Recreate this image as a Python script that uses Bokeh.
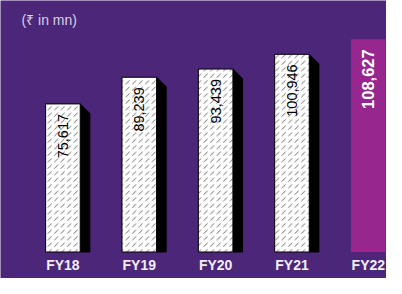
import math
from bokeh.plotting import figure
from bokeh.models import Range1d, ColumnDataSource, Label
from bokeh.core.properties import value
from bokeh.embed import file_html
from bokeh.resources import INLINE

# ---- data ----
years = ["FY18", "FY19", "FY20", "FY21", "FY22"]
revenue = [75617, 89239, 93439, 100946, 108627]
unit_label = "(₹ in mn)"

# ---- style ----
BG = "#4b2679"
HIGHLIGHT = "#97278f"
BAR_W = 0.453
DX = 0.126   # 3D side depth in x units
DY = 4829    # 3D side depth in y units

xs = list(range(len(years)))
labels = [f"{v:,}" for v in revenue]

p = figure(width=386, height=278, output_backend="svg", toolbar_location=None,
           x_range=Range1d(-0.8176, 4.238), y_range=Range1d(-13534, 128440),
           min_border=0, background_fill_color=BG, border_fill_color=BG)
p.axis.visible = False
p.grid.visible = False
p.outline_line_color = None

hist_x = xs[:-1]
hist_v = revenue[:-1]

# black 3D side of historical bars
side_xs = [[x + BAR_W / 2, x + BAR_W / 2 + DX, x + BAR_W / 2 + DX, x + BAR_W / 2] for x in hist_x]
side_ys = [[v, v - DY, 0, 0] for v in hist_v]
p.patches(side_xs, side_ys, fill_color="black", line_color="black")

# hatched white faces
src_h = ColumnDataSource(dict(x=hist_x, top=hist_v, lab=labels[:-1]))
p.vbar(x="x", top="top", bottom=0, width=BAR_W, source=src_h,
       fill_color="white", line_color="black", line_width=1,
       hatch_pattern=",", hatch_color="#222222", hatch_scale=6.5, hatch_weight=0.7)
p.text(x="x", y="top", text="lab", source=src_h, angle=math.pi / 2,
       text_align="right", text_baseline="middle", y_offset=10,
       text_font=value("Liberation Sans"), text_font_size="14.5px", text_color="black")

# highlighted latest bar
src_c = ColumnDataSource(dict(x=xs[-1:], top=revenue[-1:], lab=labels[-1:]))
p.vbar(x="x", top="top", bottom=0, width=BAR_W, source=src_c,
       fill_color=HIGHLIGHT, line_color=None)
p.text(x="x", y="top", text="lab", source=src_c, angle=math.pi / 2,
       text_align="right", text_baseline="middle", y_offset=10,
       text_font=value("Liberation Sans"), text_font_size="16.5px",
       text_font_style="bold", text_color="white")

# category labels
src_l = ColumnDataSource(dict(x=xs, y=[0] * len(xs), t=years))
p.text(x="x", y="y", text="t", source=src_l, y_offset=13,
       text_align="center", text_baseline="middle",
       text_font=value("Liberation Sans"), text_font_size="14px",
       text_font_style="bold", text_color="#f2eef8")

p.add_layout(Label(x=21, y=259, x_units="screen", y_units="screen", text=unit_label,
                   text_baseline="middle", text_font="Liberation Sans",
                   text_font_size="14px", text_color="#d9d0ea"))

open("out.html", "w").write(file_html(p, INLINE))
